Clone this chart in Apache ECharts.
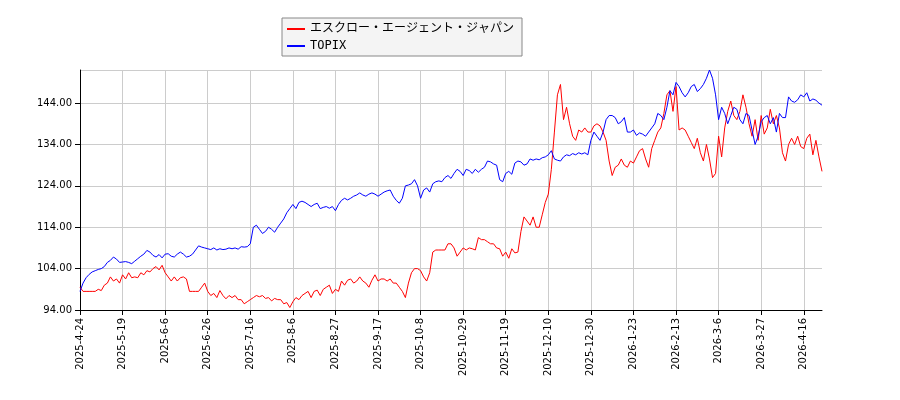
<!DOCTYPE html>
<html>
<head>
<meta charset="UTF-8">
<script src="https://cdn.jsdelivr.net/npm/echarts@6/dist/echarts.min.js"></script>
<style>body{margin:0;background:#fff}#main{width:900px;height:400px}</style>
</head>
<body>
<div id="main"></div>
<script>
var tickLabels = ['2025-4-24','2025-5-19','2025-6-6','2025-6-26','2025-7-16','2025-8-6','2025-8-27','2025-9-17','2025-10-8','2025-10-29','2025-11-19','2025-12-10','2025-12-30','2026-1-23','2026-2-13','2026-3-6','2026-3-27','2026-4-16'];
var stockName = 'エスクロー・エージェント・ジャパン';
var indexName = 'TOPIX';

var stockValues = [
  99.5,98.5,98.5,98.5,98.5,98.5,99,98.7,100,100.5,102,101,101.5,100.5,
  102.5,101.5,103,101.8,102,101.8,103,102.5,103.5,103.2,104,104.5,103.7,104.8,
  103,102,101,102,101,101.8,102,101.5,98.5,98.5,98.5,98.5,99.5,100.5,
  98.5,97.5,98,97,98.7,97.5,96.7,97.5,97,97.5,96.5,96.5,95.5,96,
  96.5,97,97.5,97.2,97.5,96.8,97,96.2,96.8,96.5,96.5,95.5,95.8,94.6,
  96,97,96.5,97.5,98,98.5,97,98.5,98.8,97.5,99,99.5,100,98,
  99,98.5,101,100,101.2,101.5,100.5,101,102,101,100.5,99.5,101.2,102.5,
  101,101.5,101.5,101,101.5,100.5,100.5,99.5,98.5,97,100.5,103,104,104,
  103.5,102,101,103,108,108.5,108.5,108.5,108.5,110,110,109,107,108,
  109,108.5,109,108.8,108.5,111.5,111,111,110.5,110,110,109,108.8,107,
  108,106.5,108.8,107.8,108,113,116.5,115.5,114.5,116.5,114,114,117,120,
  122,128,137,146,148.5,140,143,139,136,135,137.5,137,138,137,
  137,138.5,139,138.5,137,135,130,126.5,128.5,129,130.5,129,128.5,130,
  129.5,131,132.5,133,130.5,128.5,133,135,137,138,141.5,146,147,142,
  148,137.5,138,137.5,136,134.5,133,135.5,132,130,134,130.5,126,127,
  136,131,138,142,144.5,141,140,142,146,143,139,136,140,135,
  141,136.5,138,142.5,139,141,138,132,130,134,135.5,134,136,133.5,
  133,135.5,136.5,131.5,135,131,127.5
];
var indexValues = [
  98.5,100.5,101.8,102.6,103.2,103.5,103.8,104,104.5,105.5,106,106.8,106.3,105.5,
  105.6,105.7,105.5,105.2,105.8,106.4,107,107.5,108.4,108,107.2,106.8,107.4,106.6,
  107.5,107.6,107,106.8,107.5,108,107.5,106.8,107,107.5,108.5,109.5,109.2,109,
  108.8,108.6,109,108.5,108.8,108.6,108.7,109,108.8,109,108.7,109.3,109.2,109.3,
  110,114,114.5,113.5,112.5,113,114,113.5,112.8,114,115,116,117.5,118.5,
  119.5,118.5,120,120.3,120,119.5,119,119.5,119.8,118.5,118.8,119,118.6,119,
  118,119.5,120.5,121,120.6,121,121.5,121.8,122.3,121.8,121.5,122,122.3,122,
  121.5,122,122.5,122.8,123,121.5,120.5,119.8,121,124,124.2,124.5,125.5,124,
  121,123,123.5,122.5,124.5,125,125.2,125,126,126.5,125.8,127,128,127.5,
  126.5,128,127.7,127,128,127.3,128,128.5,130,129.8,129.3,129,125.5,125,
  127,127.5,126.8,129.5,130,129.8,129,129.3,130.5,130.2,130.5,130.3,130.8,131,
  131.5,132.5,130.5,130.2,130,131,131.5,131.3,131.8,131.5,132,131.7,132,131.5,
  135,137,136,135,137,140,141,141,140.5,139,139.5,140.5,137,137,
  137.5,136.2,136.8,136.5,136,137,138,139,141.5,141,140,143,147,146,
  149,148,146.5,145.5,146.5,148,148.5,146.8,147.5,148.5,150,152,150,146,
  140,143,141.5,139,141,143,142.5,140,139,141.5,141,137.5,134,136,
  139.5,140.5,141,139,140.5,137,141.5,140.5,140.5,145.5,144.5,144.2,144.8,146,
  145.5,146.5,144.5,145,144.7,144,143.5
];

var step = 14;
var cats = stockValues.map(function (v, i) { return i; });

var chart = echarts.init(document.getElementById('main'));
chart.setOption({
    animation: false,
    textStyle: {fontFamily: 'DejaVu Sans'},
    legend: {
        top: 18, left: 282,
        orient: 'vertical',
        itemGap: 5, itemWidth: 18, itemHeight: 2,
        backgroundColor: '#f4f4f4', borderColor: '#888', borderWidth: 1, borderRadius: 0,
        padding: [5, 8, 4, 5],
        textStyle: {fontSize: 12, color: '#000', fontFamily: 'DejaVu Sans Mono, Noto Sans CJK JP'},
        data: [{name: stockName, icon: 'rect'}, {name: indexName, icon: 'rect'}]
    },
    grid: {left: 80, right: 78, top: 70, bottom: 90},
    xAxis: {
        type: 'category', data: cats, boundaryGap: false,
        axisLine: {lineStyle: {color: '#000'}},
        axisTick: {interval: function (i) { return i % step === 0; }, lineStyle: {color: '#000'}},
        splitLine: {show: true, interval: function (i) { return i % step === 0; }, lineStyle: {color: '#ccc'}},
        axisLabel: {
            interval: function (i) { return i % step === 0; },
            rotate: 90, fontSize: 10, color: '#000',
            formatter: function (v) { return tickLabels[v / step] || ''; }
        }
    },
    yAxis: {
        type: 'value', min: 94, max: 152, interval: 10,
        axisLine: {show: true, lineStyle: {color: '#000'}},
        axisTick: {show: true},
        splitLine: {lineStyle: {color: '#ccc'}},
        axisLabel: {fontSize: 10, color: '#000', showMaxLabel: false,
            formatter: function (v) { return v.toFixed(2); }}
    },
    series: [
        {name: stockName, type: 'line', data: stockValues, showSymbol: false,
         lineStyle: {color: '#ff0000', width: 1}, itemStyle: {color: '#ff0000'}},
        {name: indexName, type: 'line', data: indexValues, showSymbol: false,
         lineStyle: {color: '#0000ff', width: 1}, itemStyle: {color: '#0000ff'}}
    ]
});
</script>
</body>
</html>
